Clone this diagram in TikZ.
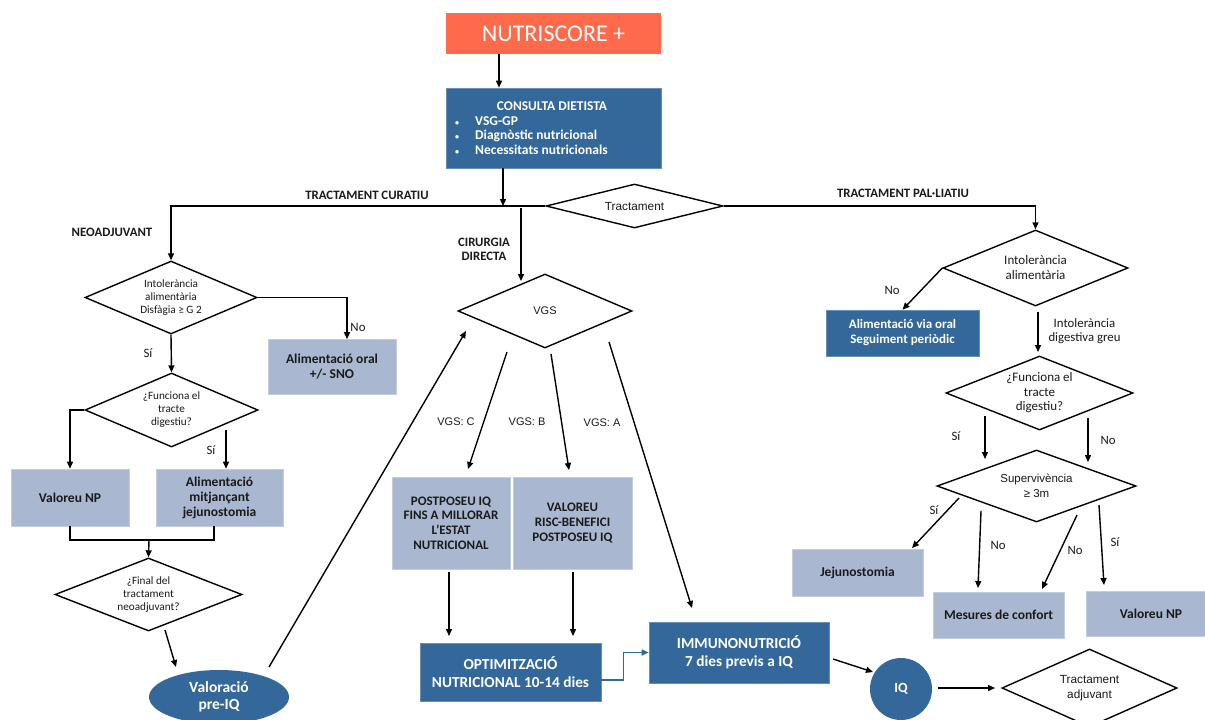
\documentclass[tikz,border=0pt]{standalone}
\usepackage{fontspec}
\setmainfont{Carlito}
\newfontfamily\arialf{Liberation Sans}
\usetikzlibrary{arrows.meta,shapes.geometric,calc}
\definecolor{dblue}{HTML}{35689A}
\definecolor{lblue}{HTML}{A9B8D0}
\definecolor{coral}{HTML}{FF6B4A}
\definecolor{tealb}{HTML}{2E6E90}
\definecolor{txt}{HTML}{1A1A1A}
\begin{document}
\begin{tikzpicture}[x=1pt,y=-1pt,
  arr/.style={-{Triangle[length=7pt,width=6pt]}, line width=1.4pt},
  ln/.style={line width=1.4pt},
  dbox/.style={rectangle, fill=dblue, draw=dblue!75!white, line width=0.6pt, text=white, font=\bfseries\fontsize{13}{15}\selectfont, align=center, inner sep=0pt},
  lbox/.style={rectangle, fill=lblue, draw=lblue!70!white, line width=0.6pt, text=txt, font=\bfseries\fontsize{13.5}{15}\selectfont, align=center, inner sep=0pt},
  dec/.style={diamond, draw, line width=1.4pt, inner sep=0pt, align=center, text=txt, font=\fontsize{11.2}{13}\selectfont},
  decr/.style={dec, font=\fontsize{13}{14.5}\selectfont},
  deca/.style={dec, font=\arialf\fontsize{11.5}{14.5}\selectfont},
  lab/.style={inner sep=0pt, text=txt, font=\fontsize{12.8}{14}\selectfont, align=center},
  laba/.style={inner sep=0pt, text=txt, font=\arialf\fontsize{11}{13}\selectfont},
  hdr/.style={inner sep=0pt, text=txt, font=\bfseries\fontsize{12.8}{14}\selectfont, align=center}]
\useasboundingbox[fill=white] (0,0) rectangle (1205,720);

% top
\node[rectangle, fill=coral, inner sep=0pt, minimum width=215pt, minimum height=41pt, text=white, font=\fontsize{24}{26}\selectfont] (nutri) at (553.5,33.5) {NUTRISCORE +};
\node[dbox, minimum width=215pt, minimum height=80pt] (consulta) at (553.5,128) {};
\node[inner sep=0pt, text=white, font=\bfseries\fontsize{13.4}{15}\selectfont] (ctitle) at (552,106) {CONSULTA DIETISTA};
\node[inner sep=0pt, text=white, font=\bfseries\fontsize{13.5}{14.6}\selectfont, align=left, anchor=west] (clist) at (455,135.5) {{\fontsize{8}{8}\selectfont •}\hspace{16pt}VSG-GP\\{\fontsize{8}{8}\selectfont •}\hspace{16pt}Diagnòstic nutricional\\{\fontsize{8}{8}\selectfont •}\hspace{16pt}Necessitats nutricionals};

\node[deca, minimum width=177pt, minimum height=44pt, shape aspect=4.02, font=\arialf\fontsize{11.8}{13}\selectfont] (trat) at (634.5,206) {Tractament};

\node[hdr] (hcur) at (367,195) {TRACTAMENT CURATIU};
\node[hdr] (hpal) at (903,193) {TRACTAMENT PAL·LIATIU};
\node[hdr] (hneo) at (112,232) {NEOADJUVANT};
\node[hdr] (hcir) at (484,249) {CIRURGIA\\DIRECTA};

% left branch
\node[dec, minimum width=172pt, minimum height=73pt, shape aspect=2.36] (intol1) at (171,297.5) {Intolerància\\alimentària\\Disfàgia ≥ G 2};
\node[lbox, minimum width=128pt, minimum height=55pt] (oral) at (332,367) {Alimentació oral\\+/- SNO};
\node[dec, minimum width=173pt, minimum height=74pt, shape aspect=2.34] (func1) at (171.5,410) {¿Funciona el\\tracte\\digestiu?};
\node[lbox, minimum width=118pt, minimum height=57pt] (vnp1) at (70,497.5) {Valoreu NP};
\node[lbox, minimum width=127pt, minimum height=57pt] (jej1) at (219.5,497.5) {Alimentació\\mitjançant\\jejunostomia};
\node[dec, minimum width=187pt, minimum height=73pt, shape aspect=2.56] (fin) at (148.5,594.5) {¿Final del\\tractament\\neoadjuvant?};
\node[ellipse, fill=dblue, inner sep=0pt, minimum width=140pt, minimum height=54pt, text=white, font=\bfseries\fontsize{15.5}{17}\selectfont, align=center] (valpre) at (219,697) {Valoració\\pre-IQ};

\node[lab] (lno1) at (358,327) {No};
\node[lab] (lsi1) at (148,353) {Sí};
\node[lab] (lsi2) at (211,450) {Sí};

% middle
\node[deca, minimum width=174pt, minimum height=74pt, shape aspect=2.35, font=\arialf\fontsize{11}{13}\selectfont] (vgs) at (545,311) {VGS};
\node[laba] (lc) at (456,422) {VGS: C};
\node[laba] (lb) at (527,422) {VGS: B};
\node[laba] (la) at (602,423) {VGS: A};
\node[lbox, minimum width=118pt, minimum height=92pt, font=\bfseries\fontsize{13}{14.6}\selectfont] (postp) at (451,523) {POSTPOSEU IQ\\FINS A MILLORAR\\L’ESTAT\\NUTRICIONAL};
\node[lbox, minimum width=119pt, minimum height=92pt, font=\bfseries\fontsize{13}{14.6}\selectfont] (valr) at (572.5,523) {VALOREU\\RISC-BENEFICI\\POSTPOSEU IQ};
\node[dbox, minimum width=181pt, minimum height=58pt, font=\bfseries\fontsize{15.3}{18}\selectfont] (optim) at (510.5,672) {OPTIMITZACIÓ\\NUTRICIONAL 10-14 dies};
\node[dbox, minimum width=180pt, minimum height=61pt, font=\bfseries\fontsize{15.3}{18}\selectfont] (immu) at (739,652.5) {IMMUNONUTRICIÓ\\7 dies previs a IQ};
\node[circle, fill=dblue, inner sep=0pt, minimum size=62pt, text=white, font=\bfseries\fontsize{14}{16}\selectfont] (iq) at (901,689) {IQ};
\node[deca, minimum width=175pt, minimum height=78pt, shape aspect=2.24, font=\arialf\fontsize{11.8}{14.5}\selectfont] (adj) at (1089.5,688) {Tractament\\adjuvant};

% right branch
\node[decr, minimum width=185pt, minimum height=76pt, shape aspect=2.43, font=\fontsize{13}{15}\selectfont] (intol2) at (1035.5,268) {Intolerància\\alimentària};
\node[dbox, minimum width=153pt, minimum height=46pt] (viaoral) at (902.5,333) {Alimentació via oral\\Seguiment periòdic};
\node[lab] (lno2) at (892,290) {No};
\node[lab] (lgreu) at (1084.5,331) {Intolerància\\digestiva greu};
\node[decr, minimum width=187pt, minimum height=74pt, shape aspect=2.53] (func2) at (1039.5,393) {¿Funciona el\\tracte\\digestiu?};
\node[lab] (lsi3) at (956,436) {Sí};
\node[lab] (lno3) at (1108,440) {No};
\node[deca, minimum width=199pt, minimum height=72pt, shape aspect=2.76] (surv) at (1036.5,486) {Supervivència\\≥ 3m};
\node[lab] (lsi4) at (934,510) {Sí};
\node[lab] (lno4) at (998,545) {No};
\node[lab] (lno5) at (1075,550) {No};
\node[lab] (lsi5) at (1115,542) {Sí};
\node[lbox, minimum width=131pt, minimum height=47pt] (jej2) at (857.5,572.5) {Jejunostomia};
\node[lbox, minimum width=131pt, minimum height=46pt] (conf) at (998.5,615) {Mesures de confort};
\node[lbox, minimum width=130pt, minimum height=45pt] (vnp2) at (1151,613.5) {Valoreu NP};

% free ends
\coordinate (c1) at (503,206);
\coordinate (cir0) at (521,208);
\coordinate (cir1) at (521,281);
\coordinate (mrg) at (149,540);
\coordinate (f0) at (165,630);
\coordinate (f1) at (176,667);
\coordinate (v0) at (269,667);
\coordinate (v1) at (466,331);
\coordinate (gc0) at (507,352);
\coordinate (gc1) at (468,469);
\coordinate (gb0) at (551,354);
\coordinate (gb1) at (569,470);
\coordinate (ga0) at (609,342);
\coordinate (ga1) at (692,608);
\coordinate (p0) at (449,572);
\coordinate (p1) at (449,636);
\coordinate (r0) at (573,572);
\coordinate (r1) at (573,636);
\coordinate (i0) at (833,659);
\coordinate (i1) at (873,672);
\coordinate (q0) at (938,688);
\coordinate (q1) at (995,688);
\coordinate (s1) at (226,430);
\coordinate (g0) at (1038,312);
\coordinate (g1) at (1038,352);
\coordinate (fs0) at (985,416);
\coordinate (fs1) at (985,459);
\coordinate (fn0) at (1088,418);
\coordinate (fn1) at (1088,462);
\coordinate (sa0) at (959,498);
\coordinate (sa1) at (912,548);
\coordinate (sb0) at (981,511);
\coordinate (sb1) at (978,588);
\coordinate (sc0) at (1077,515);
\coordinate (sc1) at (1042,589);
\coordinate (sd0) at (1099,505);
\coordinate (sd1) at (1104,585);

% connectors
\draw[arr] ($(nutri.south)+(-54.5,0)$) -- ($(consulta.north)+(-54.5,0)$);
\draw[arr] ($(consulta.south)+(-50.5,0)$) -- (c1);
\draw[arr] (trat.west) -| (intol1.north);
\draw[arr] (trat.east) -| (intol2.north);
\draw[arr] (cir0) -- (cir1);
\draw[arr] (intol1.east) -| ($(oral.north)+(15,0)$);
\draw[arr] (intol1.south) -- (func1.north);
\draw[arr] (func1.west) -| (vnp1.north);
\draw[arr] (s1) -- (s1 |- jej1.north);
\draw[ln] (vnp1.south) |- (mrg);
\draw[ln] ($(jej1.south)+(-5.5,0)$) |- (mrg);
\draw[arr] (mrg) -- (fin.north);
\draw[arr] (f0) -- (f1);
\draw[arr] (v0) -- (v1);
\draw[arr] (gc0) -- (gc1);
\draw[arr] (gb0) -- (gb1);
\draw[arr] (ga0) -- (ga1);
\draw[arr] (p0) -- (p1);
\draw[arr] (r0) -- (r1);
\draw[arr, draw=tealb, line width=1.6pt] ($(optim.east)+(0,8)$) -- ++(22,0) |- (immu.west);
\draw[arr] (i0) -- (i1);
\draw[arr] (q0) -- (q1);
\draw[arr] (intol2.west) -- (viaoral.north);
\draw[arr] (g0) -- (g1);
\draw[arr] (fs0) -- (fs1);
\draw[arr] (fn0) -- (fn1);
\draw[arr] (sa0) -- (sa1);
\draw[arr] (sb0) -- (sb1);
\draw[arr] (sc0) -- (sc1);
\draw[arr] (sd0) -- (sd1);
\end{tikzpicture}
\end{document}
